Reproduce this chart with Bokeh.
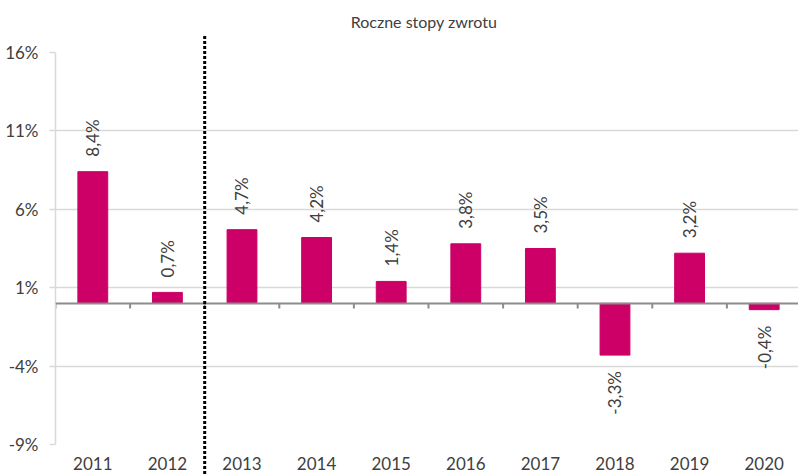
import numpy as np
from bokeh.plotting import figure
from bokeh.models import ColumnDataSource, Range1d, FixedTicker, Span
from bokeh.embed import file_html
from bokeh.resources import INLINE
from bokeh.core.properties import value

# ---- data ----
years = ["2011", "2012", "2013", "2014", "2015", "2016", "2017", "2018", "2019", "2020"]
returns = [8.4, 0.7, 4.7, 4.2, 1.4, 3.8, 3.5, -3.3, 3.2, -0.4]
y_ticks = [-9, -4, 1, 6, 11, 16]
divider_after = "2012"
chart_title = "Roczne stopy zwrotu"

FONT = "Lato"
TEXT_COLOR = "#404040"
BAR_COLOR = "#CC0066"
GRID_COLOR = "#d9d9d9"

xs = list(range(len(years)))
labels = [f"{v:.1f}%".replace(".", ",") for v in returns]

pos = [i for i, v in enumerate(returns) if v >= 0]
neg = [i for i, v in enumerate(returns) if v < 0]
src_pos = ColumnDataSource(dict(x=[xs[i] for i in pos], y=[returns[i] for i in pos],
                                t=[labels[i] for i in pos]))
src_neg = ColumnDataSource(dict(x=[xs[i] for i in neg], y=[returns[i] for i in neg],
                                t=[labels[i] for i in neg]))
src = ColumnDataSource(dict(x=xs, y=returns))

y_lo, y_hi = min(y_ticks), max(y_ticks)
x_lo, x_hi = -0.5, len(years) - 0.54

p = figure(width=798, height=475, output_backend="svg", toolbar_location=None,
           x_range=Range1d(x_lo, x_hi), y_range=Range1d(y_lo, y_hi),
           min_border_left=55, min_border_right=0, min_border_top=52, min_border_bottom=31)
p.outline_line_color = None
p.background_fill_color = "white"
p.border_fill_color = "white"

# title drawn above the frame
p.text(x=[(x_lo + x_hi) / 2 - 0.04], y=[y_hi + 1.95], text=[chart_title],
       text_align="center", text_baseline="middle", text_font=value(FONT),
       text_font_size="16px", text_color=TEXT_COLOR, level="overlay")

# grid
p.xgrid.grid_line_color = None
p.ygrid.ticker = FixedTicker(ticks=y_ticks)
p.ygrid.grid_line_color = GRID_COLOR
p.ygrid.grid_line_width = 1.5

# y axis
ya = p.yaxis[0]
ya.ticker = FixedTicker(ticks=y_ticks)
ya.major_label_overrides = {t: f"{t}%" for t in y_ticks}
ya.axis_line_color = GRID_COLOR
ya.axis_line_width = 1.5
ya.major_tick_line_color = GRID_COLOR
ya.major_tick_line_width = 1.5
ya.major_tick_out = 6
ya.major_tick_in = 0
ya.minor_tick_line_color = None
ya.major_label_standoff = 11
ya.major_label_text_font = FONT
ya.major_label_text_font_size = "17px"
ya.major_label_text_color = TEXT_COLOR

# x axis
xa = p.xaxis[0]
xa.ticker = FixedTicker(ticks=xs)
xa.major_label_overrides = {i: y for i, y in zip(xs, years)}
xa.axis_line_color = None
xa.major_tick_line_color = None
xa.minor_tick_line_color = None
xa.major_tick_out = 0
xa.major_tick_in = 0
xa.major_label_standoff = 12
xa.major_label_text_font = FONT
xa.major_label_text_font_size = "17px"
xa.major_label_text_color = TEXT_COLOR

# bars
p.vbar(x="x", top="y", bottom=0, width=0.4, source=src,
       fill_color=BAR_COLOR, line_color=BAR_COLOR)

# zero line with category ticks
p.add_layout(Span(location=0, dimension="width", line_color="#8c8c8c", line_width=2))
bounds = [i - 0.5 for i in xs]
p.segment(x0=bounds, y0=[0] * len(bounds), x1=bounds, y1=[-0.33] * len(bounds),
          line_color="#8c8c8c", line_width=2)

# divider (dotted)
d = years.index(divider_after) + 0.5
p.segment(x0=[d], y0=[y_lo - 2.2], x1=[d], y1=[y_hi + 1.1], line_color="black",
          line_width=3, line_dash="3 2", level="overlay")

# value labels
p.text(x="x", y="y", text="t", source=src_pos, angle=np.pi / 2, text_align="left",
       text_baseline="middle", y_offset=-15, text_font=value(FONT),
       text_font_size="17px", text_color=TEXT_COLOR)
p.text(x="x", y="y", text="t", source=src_neg, angle=np.pi / 2, text_align="right",
       text_baseline="middle", y_offset=16, text_font=value(FONT),
       text_font_size="17px", text_color=TEXT_COLOR)

open("out.html", "w").write(file_html(p, INLINE))
